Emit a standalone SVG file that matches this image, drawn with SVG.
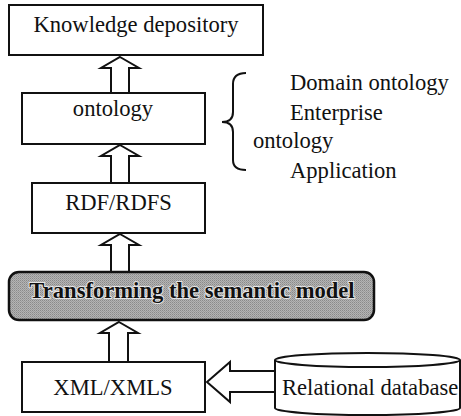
<svg xmlns="http://www.w3.org/2000/svg" width="461" height="416" viewBox="0 0 461 416">
<defs>
<pattern id="dots" width="2" height="2" patternUnits="userSpaceOnUse">
<rect width="2" height="2" fill="#b4b4b4"/>
<rect width="1" height="1" fill="#8a8a8a"/>
<rect x="1" y="1" width="1" height="1" fill="#9c9c9c"/>
</pattern>
</defs>
<style>
.box{fill:#fff;stroke:#111;stroke-width:2}
.t{font-family:"Liberation Serif","Times New Roman",serif;font-size:22.6px;fill:#111}
.arr{fill:#fff;stroke:#111;stroke-width:2;stroke-linejoin:miter}
</style>
<rect width="461" height="416" fill="#fff"/>
<g id="connectors">
<polygon class="arr" points="120,57 139,68 129,68 129,93 111,93 111,68 101,68"/>
<polygon class="arr" points="120,145 139,156 129,156 129,183 111,183 111,156 101,156"/>
<polygon class="arr" points="120,234 139,245 129,245 129,272 111,272 111,245 101,245"/>
<polygon class="arr" points="119,322 138,333 128,333 128,362 109,362 109,333 100,333"/>
<polygon class="arr" points="207,382 230,362 230,371 275,371 275,392 230,392 230,402"/>
</g>
<g id="knowledge">
<rect class="box" x="9" y="5" width="254" height="50"/>
<text class="t" x="136" y="32" text-anchor="middle">Knowledge depository</text>
</g>
<g id="ontology">
<rect class="box" x="22" y="93" width="183" height="51"/>
<text class="t" x="113" y="116" text-anchor="middle">ontology</text>
</g>
<g id="brace">
<path d="M246,73 Q233,73 233,84 L233,112 Q233,122 222,122 Q233,122 233,132 L233,160 Q233,170 246,170" fill="none" stroke="#111" stroke-width="2"/>
<text class="t" x="290" y="90">Domain ontology</text>
<text class="t" x="290" y="120">Enterprise</text>
<text class="t" x="253" y="148">ontology</text>
<text class="t" x="290" y="178">Application</text>
</g>
<g id="rdf">
<rect class="box" x="32" y="183" width="173" height="50"/>
<text class="t" x="118.5" y="210" text-anchor="middle">RDF/RDFS</text>
</g>
<g id="transform">
<rect x="9" y="272" width="365" height="48" rx="10" ry="10" fill="url(#dots)" stroke="#111" stroke-width="2.5"/>
<text class="t" x="192" y="298" text-anchor="middle" font-weight="bold" stroke="#e6e6e6" stroke-width="2" paint-order="stroke">Transforming the semantic model</text>
</g>
<g id="xml">
<rect class="box" x="22" y="362" width="183" height="50"/>
<text class="t" x="113" y="395" text-anchor="middle">XML/XMLS</text>
</g>
<g id="database">
<path d="M275,360 L275,408 A92.5,7 0 0 0 460,408 L460,360" fill="#fff" stroke="#111" stroke-width="2"/>
<ellipse cx="367.5" cy="360" rx="92.5" ry="7" fill="#fff" stroke="#111" stroke-width="2"/>
<text class="t" x="282" y="395">Relational database</text>
</g>
</svg>
